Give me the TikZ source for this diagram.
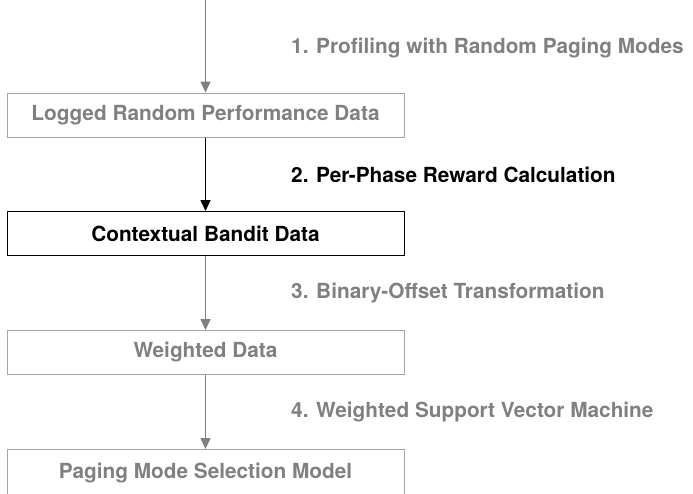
\documentclass[tikz,border=0pt]{standalone}
\usepackage{fontspec}
\setmainfont{TeX Gyre Heros}
\usetikzlibrary{arrows.meta,positioning}

\definecolor{stagegray}{RGB}{128,128,128}
\definecolor{boxgray}{RGB}{165,165,165}

\tikzset{
  stagebox/.style={draw=boxgray, line width=1pt, minimum width=397pt, minimum height=44pt,
    inner sep=0pt, text=stagegray, font=\bfseries\fontsize{20.8}{24}\selectfont},
  activebox/.style={stagebox, draw=black, text=black},
  stagelabel/.style={anchor=west, inner sep=0pt, text=stagegray, font=\bfseries\fontsize{20.8}{24}\selectfont},
  flow/.style={stagegray, line width=1.5pt, -{Triangle[length=11pt,width=10pt]}},
}

\begin{document}
\begin{tikzpicture}[x=1pt, y=-1pt]

    \useasboundingbox (0,0) rectangle (693,493);
    \coordinate (start) at (205.5,0);

% caixas
\node[stagebox] (logged) at (205.5,115) {Logged Random Performance Data};
\node[activebox] (bandit) at (205.5,233.5) {Contextual Bandit Data};
\node[stagebox] (weighted) at (205.5,352.5) {Weighted Data};
\node[stagebox, minimum height=47pt] (model) at (205.5,473) {Paging Mode Selection Model};

% setas
\draw[flow] (start) -- (logged.north);
\draw[flow, black] (logged.south) -- (bandit.north);
\draw[flow] (bandit.south) -- (weighted.north);
\draw[flow] (weighted.south) -- (model.north);

% etapas
\node[stagelabel] (step1) at (291,48) {1. Profiling with Random Paging Modes};
\node[stagelabel, text=black] (step2) at (291,175) {2. Per-Phase Reward Calculation};
\node[stagelabel] (step3) at (291,293) {3. Binary-Offset Transformation};
\node[stagelabel] (step4) at (291,412) {4. Weighted Support Vector Machine};

  \end{tikzpicture}
\end{document}
